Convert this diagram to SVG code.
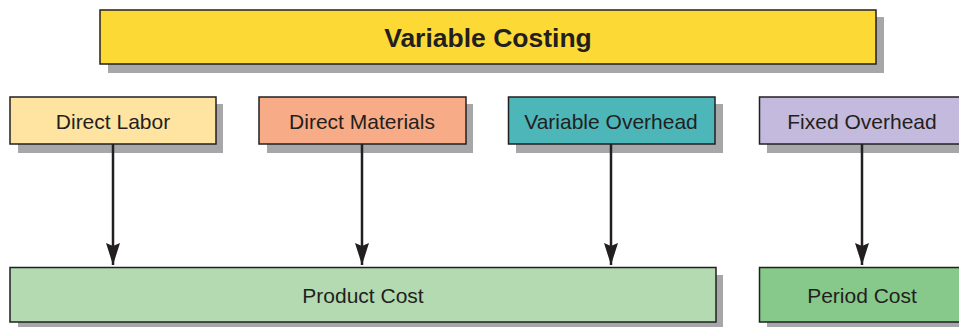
<svg xmlns="http://www.w3.org/2000/svg" width="959" height="327" viewBox="0 0 959 327">
  <style>
    .shadow { fill: #a7a7aa; }
    .box { stroke: #231f20; stroke-width: 1.5; }
    .label { font-family: "Liberation Sans", Arial, sans-serif; font-size: 21px; fill: #231f20; text-anchor: middle; dominant-baseline: central; }
    .title { font-family: "Liberation Sans", Arial, sans-serif; font-size: 26.5px; font-weight: bold; fill: #231f20; text-anchor: middle; dominant-baseline: central; }
    .wire { stroke: #231f20; stroke-width: 2.5; fill: none; marker-end: url(#head); }
  </style>
  <defs>
    <!-- notched arrowhead, drawn pointing along +x -->
    <marker id="head" markerUnits="userSpaceOnUse" markerWidth="22" markerHeight="14" refX="22" refY="7" orient="auto" viewBox="0 0 22 14">
      <path d="M0,0 L22,7 L0,14 L3,7 Z" fill="#231f20"/>
    </marker>
  </defs>
  <rect width="959" height="327" fill="#ffffff"/>

  <g id="variable-costing">
    <rect class="shadow" x="108" y="17" width="776" height="56"/>
    <rect class="box" x="100" y="10" width="776" height="54" fill="#fdd935"/>
    <text class="title" x="488" y="38">Variable Costing</text>
  </g>

  <g id="direct-labor">
    <rect class="shadow" x="18" y="104" width="205" height="49"/>
    <rect class="box" x="10" y="97" width="206" height="47" fill="#ffe4a1"/>
    <text class="label" x="113" y="121">Direct Labor</text>
  </g>

  <g id="direct-materials">
    <rect class="shadow" x="267" y="104" width="206" height="49"/>
    <rect class="box" x="259" y="97" width="207" height="47" fill="#f7ab86"/>
    <text class="label" x="362" y="121">Direct Materials</text>
  </g>

  <g id="variable-overhead">
    <rect class="shadow" x="516" y="104" width="207" height="49"/>
    <rect class="box" x="508.5" y="97" width="206.5" height="47" fill="#4db6b9"/>
    <text class="label" x="611" y="121">Variable Overhead</text>
  </g>

  <g id="fixed-overhead">
    <rect class="shadow" x="767" y="104" width="200" height="49"/>
    <rect class="box" x="759.5" y="97" width="210" height="47" fill="#c3badd"/>
    <text class="label" x="862" y="121">Fixed Overhead</text>
  </g>

  <g id="product-cost">
    <rect class="shadow" x="18" y="275" width="705" height="55"/>
    <rect class="box" x="10" y="267.5" width="706" height="54.5" fill="#b3dab0"/>
    <text class="label" x="363" y="295">Product Cost</text>
  </g>

  <g id="period-cost">
    <rect class="shadow" x="767" y="275" width="200" height="55"/>
    <rect class="box" x="759.5" y="267.5" width="210" height="54.5" fill="#86c98a"/>
    <text class="label" x="862" y="295">Period Cost</text>
  </g>

  <g id="connectors">
    <path class="wire" d="M113,144 V265"/>
    <path class="wire" d="M362,144 V265"/>
    <path class="wire" d="M611,144 V265"/>
    <path class="wire" d="M862,144 V265"/>
  </g>
</svg>
